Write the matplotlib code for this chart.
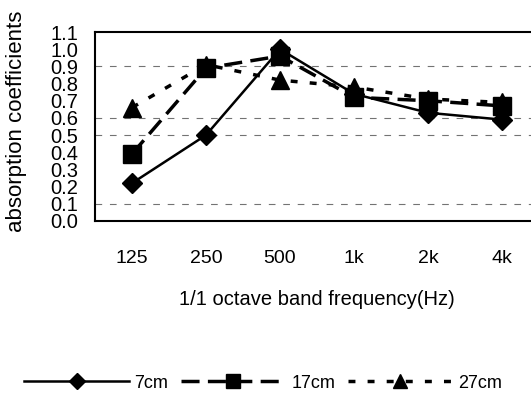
import matplotlib
matplotlib.use("Agg")
import matplotlib.pyplot as plt
import numpy as np

plt.rcParams['font.family'] = ['Liberation Sans', 'DejaVu Sans']

categories = ['125', '250', '500', '1k', '2k', '4k']
s7 = [0.22, 0.50, 1.00, 0.74, 0.63, 0.59]
s17 = [0.39, 0.89, 0.96, 0.72, 0.70, 0.67]
s27 = [0.66, 0.91, 0.82, 0.78, 0.71, 0.69]
series_labels = ['7cm', '17cm', '27cm']
yticks = [round(0.1 * i, 1) for i in range(12)]
grid_levels = [0.1, 0.5, 0.6, 0.9]

fig = plt.figure(figsize=(5.31, 3.94), dpi=100)
ax = fig.add_axes([95/531, 1-221/394, (539-95)/531, (221-32)/394])

x = np.arange(len(categories))

for g in grid_levels:
    ax.axhline(g, color='0.45', lw=0.8, ls=(0, (6, 7)), zorder=0)

l1, = ax.plot(x, s7, color='black', lw=1.8, marker='D', ms=10.5,
              label=series_labels[0], zorder=3)
l2, = ax.plot(x, s17, color='black', lw=2.5, marker='s', ms=13,
              dashes=(5.2, 2.4), label=series_labels[1], zorder=2)
l3, = ax.plot(x, s27, color='black', lw=2.5, marker='^', ms=13,
              dashes=(2.0, 3.5), label=series_labels[2], zorder=2)

ax.set_xlim(-0.5, 5.5)
ax.set_ylim(0, 1.1)
ax.set_xticks(x)
ax.set_xticklabels(categories, fontsize=14)
ax.set_yticks(yticks)
ax.set_yticklabels([f'{v:.1f}' for v in yticks], fontsize=14.5)
ax.tick_params(axis='x', length=0, pad=21)
ax.tick_params(axis='y', length=0, pad=12)

for sp in ax.spines.values():
    sp.set_linewidth(1.5)
    sp.set_color('black')

ax.set_xlabel('1/1 octave band frequency(Hz)', fontsize=14.5)
ax.xaxis.label.set_va('center')
ax.xaxis.set_label_coords(0.5, (221-300)/189)

ax.set_ylabel('absorption coefficients', fontsize=16)
ax.yaxis.label.set_va('center')
ax.yaxis.set_label_coords((17-95)/444, (221-121)/189)

fig.legend(handles=[l1, l2, l3], loc='center',
           bbox_to_anchor=(263/531, 1-383/394), ncol=3, frameon=False,
           fontsize=13, handlelength=5.8, handletextpad=0.3,
           columnspacing=0.7, markerscale=0.8)

fig.savefig('out.png', dpi=100)
